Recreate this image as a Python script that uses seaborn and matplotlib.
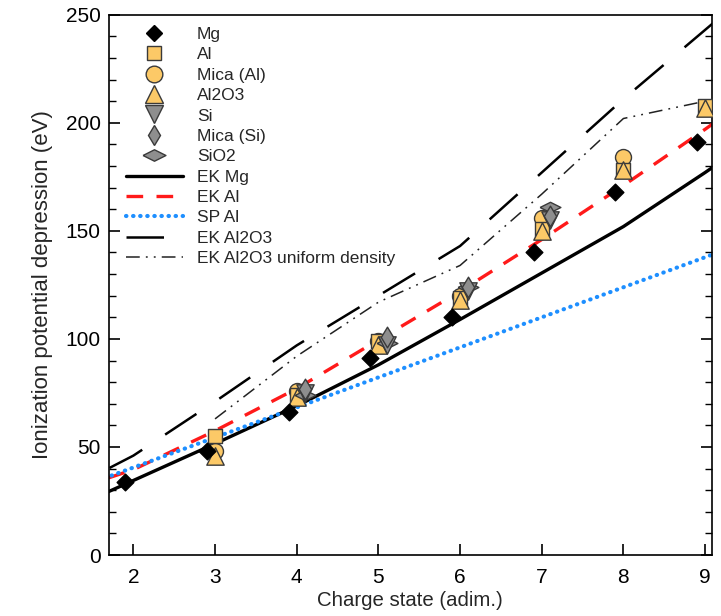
import numpy as np
import pandas as pd
import matplotlib
matplotlib.use("Agg")
import matplotlib.pyplot as plt
from matplotlib.lines import Line2D
from matplotlib.ticker import MultipleLocator
import seaborn as sns

# ---------------- data ----------------
charge_mg = [2, 3, 4, 5, 6, 7, 8, 9]
mg_vals = [34, 48, 66, 91, 110, 140, 168, 191]

charge_al = [3, 4, 5, 6, 7, 8, 9]
al_vals = [55, 74, 99, 119, 151, 178, 208]
mica_al_vals = [48, 76, 99, 120, 156, 184, np.nan]
al2o3_vals = [46, 73, 97, 118, 150, 178, 207]

charge_si = [4, 5, 6, 7]
si_vals = [75, 97, 122, 155]
mica_si_vals = [77, 101, 124, 157]
sio2_vals = [74, 98, 124, 161]

charge_line = [1, 2, 3, 4, 5, 6, 7, 8, 9, 10]
ek_mg = [17.5, 34.5, 51.5, 69, 88, 109, 130.5, 152, 177, 203]
ek_al = [27, 39.5, 57.5, 77, 99.5, 122, 146, 171, 197, 224]
sp_al = [26.6, 40.5, 54.4, 68.3, 82.2, 96.1, 110, 123.9, 137.8, 151.7]
ek_al2o3 = [26.5, 46, 71, 97, 120, 143, 177, 211, 243, 275]

charge_uni = [3, 4, 5, 6, 7, 8, 9]
ek_al2o3_uniform = [63, 92, 117, 134, 167, 202, 210]

mg_shift = -0.1
si_shift = 0.1

# ---------------- style ----------------
sns.set_style("white")
plt.rcParams['font.family'] = ['Liberation Sans', 'DejaVu Sans']

yellow = "#FCC967"
gray = "#8E8E8E"
edge = "#3A3A3A"
wide_diamond = [(-1, 0), (0, 0.5), (1, 0), (0, -0.5), (-1, 0)]

fig = plt.figure(figsize=(7.21, 6.16), dpi=100)
ax = fig.add_axes([0.151, 0.099, 0.836, 0.877])

# lines
line_specs = [
    ("EK Mg", charge_line, ek_mg, dict(color="black", lw=2.4, ls="-")),
    ("EK Al", charge_line, ek_al, dict(color="#FF1A1A", lw=2.4, ls=(0, (5, 4)))),
    ("SP Al", charge_line, sp_al, dict(color="#1E8FFF", lw=3.0, ls=(0, (0.1, 1.6)), dash_capstyle="round")),
    ("EK Al2O3", charge_line, ek_al2o3, dict(color="black", lw=1.8, ls=(0, (15, 11)))),
    ("EK Al2O3 uniform density", charge_uni, ek_al2o3_uniform,
     dict(color="#222222", lw=1.1, ls=(0, (9, 4, 1.2, 4, 1.2, 4)))),
]
for name, xs, ys, kw in line_specs:
    df = pd.DataFrame({"x": xs, "y": ys})
    sns.lineplot(data=df, x="x", y="y", ax=ax, legend=False, sort=False, **kw)

# markers (scatter sizes in points^2)
marker_specs = [
    ("Mica (Al)", charge_al, 0.0, mica_al_vals, dict(marker="o", color=yellow, s=11.5 ** 2)),
    ("Al", charge_al, 0.0, al_vals, dict(marker="s", color=yellow, s=10 ** 2)),
    ("Al2O3", charge_al, 0.0, al2o3_vals, dict(marker="^", color=yellow, s=12.5 ** 2)),
    ("SiO2", charge_si, si_shift, sio2_vals, dict(marker=wide_diamond, color=gray, s=15 ** 2)),
    ("Si", charge_si, si_shift, si_vals, dict(marker="v", color=gray, s=12.5 ** 2)),
    ("Mica (Si)", charge_si, si_shift, mica_si_vals, dict(marker="d", color=gray, s=10.5 ** 2)),
    ("Mg", charge_mg, mg_shift, mg_vals, dict(marker="D", color="black", s=8.5 ** 2)),
]
for name, xs, shift, ys, kw in marker_specs:
    df = pd.DataFrame({"x": np.array(xs) + shift, "y": ys}).dropna()
    ec = "black" if name == "Mg" else edge
    sns.scatterplot(data=df, x="x", y="y", ax=ax, legend=False, edgecolor=ec,
                    linewidth=1.0, zorder=5, **kw)

# axes
ax.set_xlim(1.7, 9.08)
ax.set_ylim(0, 250)
ax.set_xticks([2, 3, 4, 5, 6, 7, 8, 9])
ax.yaxis.set_major_locator(MultipleLocator(50))
ax.yaxis.set_minor_locator(MultipleLocator(10))
ax.tick_params(axis="both", which="both", direction="in", colors="black", labelsize=15)
ax.tick_params(axis="y", which="both", right=True, left=True, pad=6)
ax.tick_params(axis="x", which="both", top=False, bottom=True, pad=9)
ax.tick_params(which="major", length=8, width=1.2)
ax.tick_params(which="minor", length=5, width=1.0)
for sp in ax.spines.values():
    sp.set_color("black")
    sp.set_linewidth(1.2)
ax.set_xlabel("Charge state (adim.)", fontsize=14.7, labelpad=3.5)
ax.set_ylabel("Ionization potential depression (eV)", fontsize=16, labelpad=9)

# legend
handles = [
    Line2D([], [], ls="none", marker="D", color="black", mec="black", ms=8.5, label="Mg"),
    Line2D([], [], ls="none", marker="s", color=yellow, mec=edge, ms=10.5, label="Al"),
    Line2D([], [], ls="none", marker="o", color=yellow, mec=edge, ms=12, label="Mica (Al)"),
    Line2D([], [], ls="none", marker="^", color=yellow, mec=edge, ms=13, label="Al2O3"),
    Line2D([], [], ls="none", marker="v", color=gray, mec=edge, ms=13, label="Si"),
    Line2D([], [], ls="none", marker="d", color=gray, mec=edge, ms=10.5, label="Mica (Si)"),
    Line2D([], [], ls="none", marker=wide_diamond, color=gray, mec=edge, ms=16.5, label="SiO2"),
]
for name, xs, ys, kw in line_specs:
    handles.append(Line2D([], [], label=name, **kw))
leg = ax.legend(handles=handles, loc="upper left", frameon=False, fontsize=12.5,
                handlelength=3.3, labelspacing=0.3, borderaxespad=0.3,
                bbox_to_anchor=(0.008, 1.0), handletextpad=0.8)

fig.savefig("out.png", dpi=100)
